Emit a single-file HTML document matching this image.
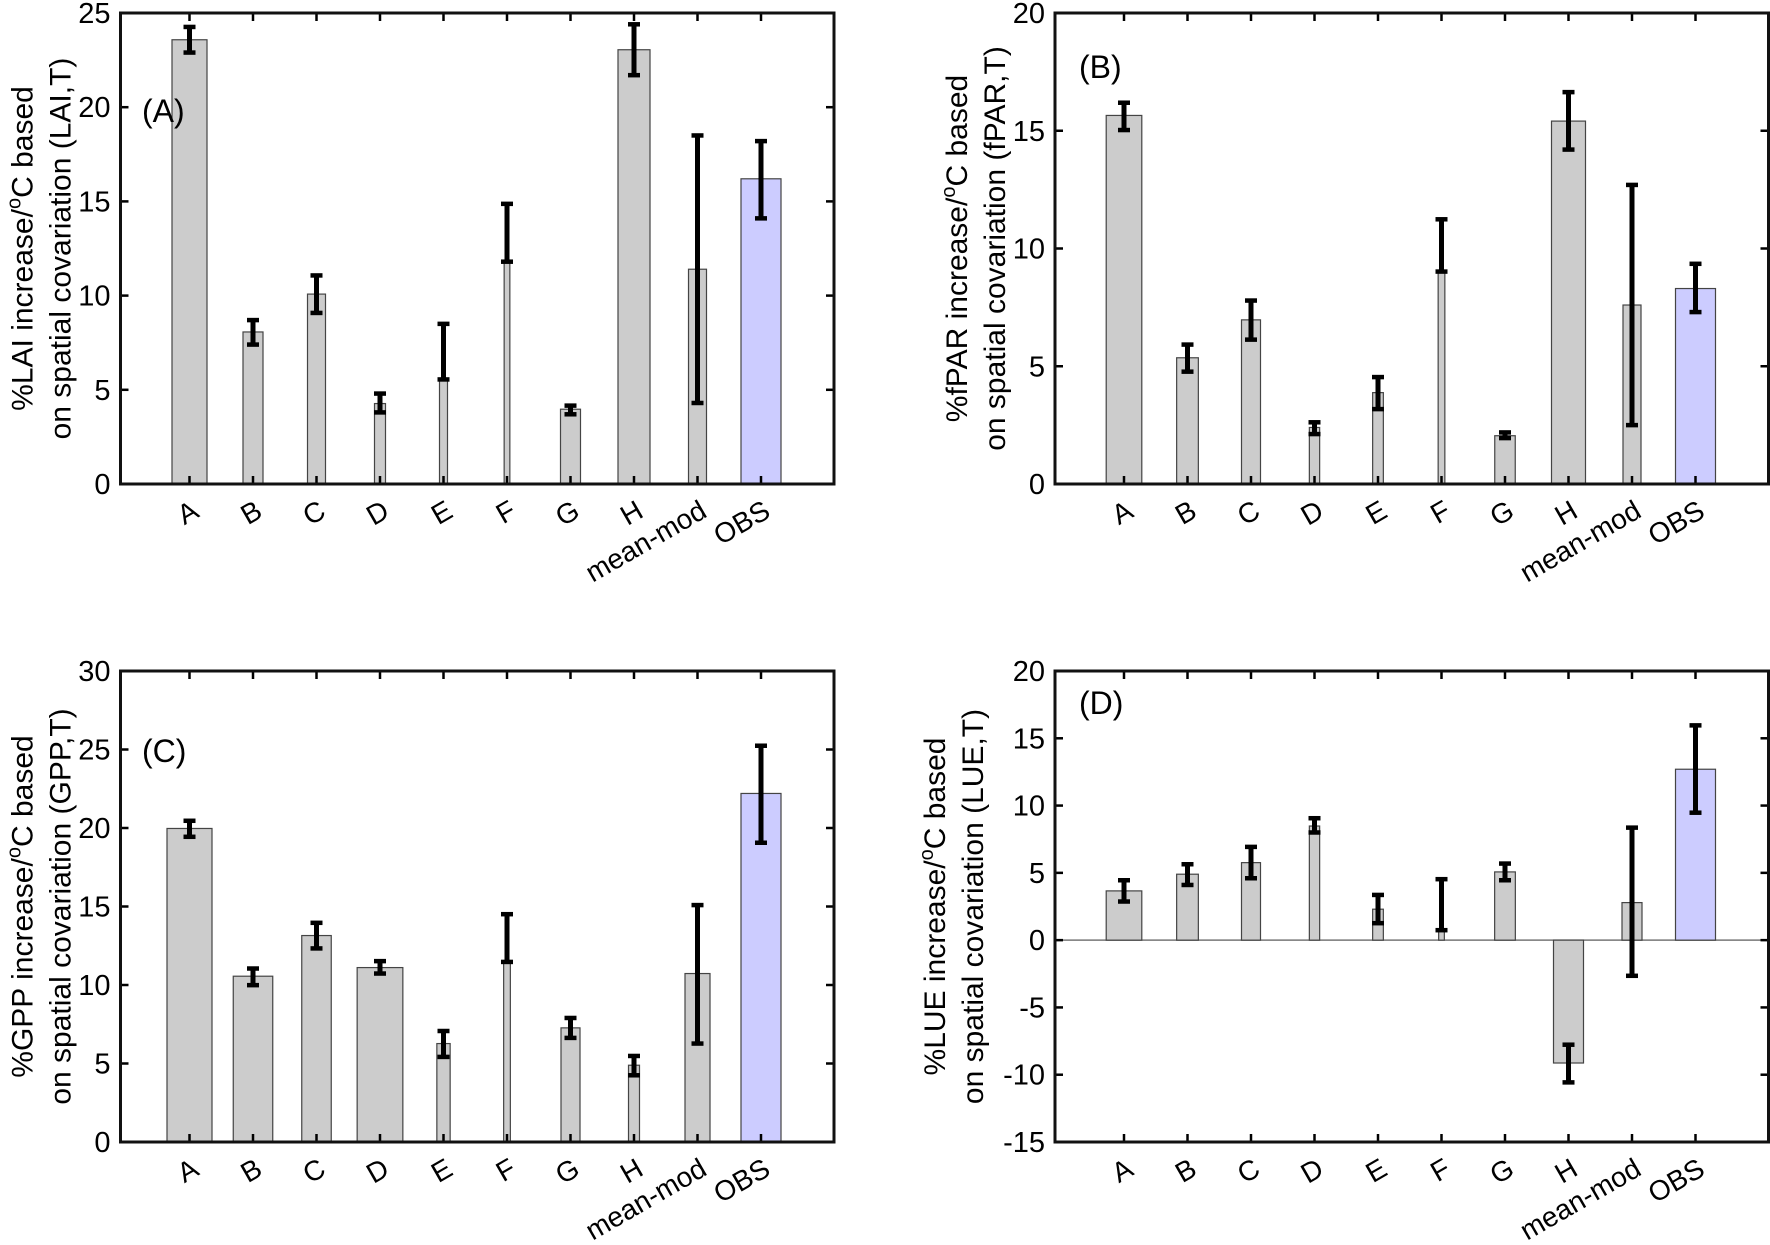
<!DOCTYPE html>
<html><head><meta charset="utf-8"><style>
html,body{margin:0;padding:0;background:#fff;}
svg{display:block;font-family:"Liberation Sans",Arial,sans-serif;}
</style></head><body>
<svg id="fig" width="1770" height="1245" viewBox="0 0 1770 1245" xmlns="http://www.w3.org/2000/svg"></svg>
<script>
const categories = ["A","B","C","D","E","F","G","H","mean-mod","OBS"];
// Panel A: LAI
const valsA = [23.58, 8.07, 10.08, 4.27, 5.5, 11.8, 3.97, 23.05, 11.4, 16.2];
const loA   = [22.9, 7.4, 9.08, 3.8, 5.55, 11.8, 3.7, 21.7, 4.3, 14.1];
const hiA   = [24.26, 8.7, 11.07, 4.8, 8.5, 14.87, 4.16, 24.4, 18.5, 18.2];
// Panel B: fPAR
const valsB = [15.65, 5.36, 6.97, 2.4, 3.88, 9.02, 2.05, 15.41, 7.6, 8.3];
const loB   = [15.03, 4.77, 6.13, 2.12, 3.18, 9.02, 1.95, 14.2, 2.5, 7.3];
const hiB   = [16.19, 5.92, 7.79, 2.62, 4.54, 11.24, 2.19, 16.64, 12.7, 9.35];
// Panel C: GPP
const valsC = [19.97, 10.56, 13.15, 11.11, 6.27, 11.47, 7.27, 4.89, 10.73, 22.2];
const loC   = [19.44, 9.99, 12.33, 10.73, 5.42, 11.47, 6.63, 4.25, 6.27, 19.06];
const hiC   = [20.46, 11.05, 13.96, 11.52, 7.07, 14.51, 7.9, 5.48, 15.09, 25.24];
// Panel D: LUE
const valsD = [3.66, 4.9, 5.76, 8.48, 2.3, 0.74, 5.07, -9.13, 2.79, 12.7];
const loD   = [2.87, 4.1, 4.6, 8.0, 1.26, 0.74, 4.45, -10.57, -2.65, 9.47];
const hiD   = [4.45, 5.64, 6.93, 9.06, 3.36, 4.53, 5.69, -7.77, 8.36, 15.96];
const yTicksA = [0,5,10,15,20,25];
const yTicksB = [0,5,10,15,20];
const yTicksC = [0,5,10,15,20,25,30];
const yTicksD = [-15,-10,-5,0,5,10,15,20];

const NS = "http://www.w3.org/2000/svg";
const svg = document.getElementById("fig");
function mk(tag, attrs, parent){
  const e = document.createElementNS(NS, tag);
  for (const k in attrs) e.setAttribute(k, attrs[k]);
  (parent||svg).appendChild(e);
  return e;
}
// styling (not data)
const widthsA = [35,20,18,11,8,5.7,20,32,18,40];
const widthsB = [35.6,21.7,19,10.3,10.7,6.7,20.5,34,18,40];
const widthsC = [45,39.5,29.5,45.7,13.3,6.7,19,11,25,40];
const widthsD = [35.6,21.7,19,10.3,10.7,5.7,20.7,30,20,40];

function panel(cfg){
  const g = mk("g", {});
  
  
  const L=cfg.left, R=cfg.left+713.5, T=cfg.top, B=cfg.top+471;
  const x0 = L+69, dx = 63.5;
  const xs = i => x0 + i*dx;
  const ys = v => B - (v - cfg.ymin)/(cfg.ymax-cfg.ymin)*(B-T);
  if (cfg.ymin < 0) {
    const zl = mk("line",{x1:L,x2:R,y1:ys(0),y2:ys(0),stroke:"#777","stroke-width":1.5},g);
    
    
  }
  cfg.vals.forEach((v,i)=>{
    const w = cfg.widths[i];
    const y1 = ys(Math.max(v,0)), y2 = ys(Math.min(v,0));
    const r = mk("rect",{x:xs(i)-w/2,y:y1,width:w,height:Math.max(0.5,y2-y1),
      fill: categories[i]==="OBS" ? "#ccccff" : "#cccccc", stroke:"#444","stroke-width":1.2},g);
    
    
  });
  cfg.vals.forEach((v,i)=>{
    const eg = mk("g",{stroke:"#000"},g);
    
    
    const x = xs(i), ya = ys(cfg.lo[i]), yb = ys(cfg.hi[i]);
    mk("line",{x1:x,x2:x,y1:ya,y2:yb,"stroke-width":5},eg);
    mk("line",{x1:x-6,x2:x+6,y1:ya,y2:ya,"stroke-width":4.5},eg);
    mk("line",{x1:x-6,x2:x+6,y1:yb,y2:yb,"stroke-width":4.5},eg);
  });
  categories.forEach((c,i)=>{
    const x=xs(i);
    mk("line",{x1:x,x2:x,y1:B,y2:B-8,stroke:"#000","stroke-width":2.5},g);
    mk("line",{x1:x,x2:x,y1:T,y2:T+8,stroke:"#000","stroke-width":2.5},g);
    const t = mk("text",{x:0,y:0,"font-size":28,"text-anchor":"end",
      transform:`translate(${x+11},${B+32}) rotate(-30)`},g);
    t.textContent = c;
    
    
  });
  cfg.yticks.forEach(v=>{
    const y=ys(v);
    mk("line",{x1:L,x2:L+8,y1:y,y2:y,stroke:"#000","stroke-width":2.5},g);
    mk("line",{x1:R,x2:R-8,y1:y,y2:y,stroke:"#000","stroke-width":2.5},g);
    const t = mk("text",{x:L-10,y:y+10,"font-size":29,"text-anchor":"end"},g);
    t.textContent = v;
    
    
  });
  const f = mk("rect",{x:L,y:T,width:R-L,height:B-T,fill:"none",stroke:"#111","stroke-width":3},g);
  
  
  const pl = mk("text",{x:cfg.lx,y:cfg.ly,"font-size":32},g);
  pl.textContent = cfg.letter;
  
  
  const cy = (T+B)/2;
  const t1 = mk("text",{x:0,y:0,"font-size":30,"text-anchor":"middle",
    transform:`translate(${L-88-cfg.tshift},${cy}) rotate(-90)`},g);
  t1.innerHTML = '%'+cfg.v+' increase/<tspan font-size="20" dy="-12">o</tspan><tspan dy="12">C based</tspan>';
  
  
  const t2 = mk("text",{x:0,y:0,"font-size":30,"text-anchor":"middle",
    transform:`translate(${L-50-cfg.tshift},${cy}) rotate(-90)`},g);
  t2.textContent = 'on spatial covariation ('+cfg.v+',T)';
  
  
}
panel({name:"panel-a-lai",left:120.5,top:13,ymin:0,ymax:25,vals:valsA,lo:loA,hi:hiA,widths:widthsA,yticks:yTicksA,letter:"(A)",lx:142,ly:122,v:"LAI",tshift:0});
panel({name:"panel-b-fpar",left:1055,top:13,ymin:0,ymax:20,vals:valsB,lo:loB,hi:hiB,widths:widthsB,yticks:yTicksB,letter:"(B)",lx:1079,ly:78,v:"fPAR",tshift:0});
panel({name:"panel-c-gpp",left:120.5,top:671,ymin:0,ymax:30,vals:valsC,lo:loC,hi:hiC,widths:widthsC,yticks:yTicksC,letter:"(C)",lx:142,ly:762,v:"GPP",tshift:0});
panel({name:"panel-d-lue",left:1055,top:671,ymin:-15,ymax:20,vals:valsD,lo:loD,hi:hiD,widths:widthsD,yticks:yTicksD,letter:"(D)",lx:1079,ly:714,v:"LUE",tshift:22});
</script>
</body></html>
